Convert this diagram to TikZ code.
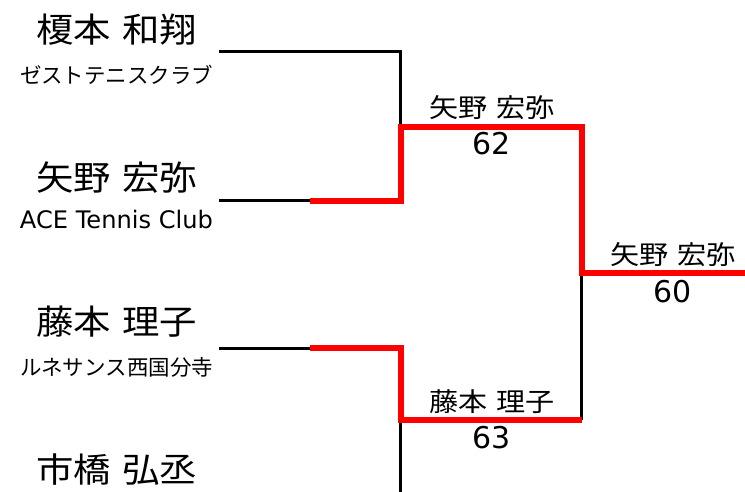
\documentclass[tikz,border=0pt]{standalone}
\usepackage{fontspec}
\setmainfont{Noto Sans CJK JP}
\newfontfamily\latinfont{DejaVu Sans}
\begin{document}
\begin{tikzpicture}[x=1pt,y=-1pt,
  bigname/.style={font=\fontsize{34}{40}\selectfont, inner sep=0pt},
  club/.style={font=\fontsize{21}{25}\selectfont, inner sep=0pt},
  winner/.style={font=\fontsize{26}{30}\selectfont, inner sep=0pt},
  score/.style={font=\latinfont\fontsize{30}{34}\selectfont, inner sep=0pt},
  blk/.style={line width=3pt, black, line join=miter},
  winline/.style={line width=6pt, color={rgb,255:red,255;green,0;blue,0}, line join=miter}]
\useasboundingbox (0,0) rectangle (745,492);
% players
\node[bigname] (n1) at (116.5,30) {\scalebox{1.1}[1]{榎本\hspace{0.3em}和翔}};
\node[club] (c1) at (116.5,75) {\resizebox{193pt}{!}{ゼストテニスクラブ}};
\node[bigname] (n2) at (116.5,178) {\scalebox{1.1}[1]{矢野\hspace{0.3em}宏弥}};
\node[club] (c2) at (116.5,220) {\resizebox{193pt}{!}{\latinfont ACE Tennis Club}};
\node[bigname] (n3) at (116.5,322) {\scalebox{1.1}[1]{藤本\hspace{0.3em}理子}};
\node[club] (c3) at (116.5,367) {\resizebox{193pt}{!}{ルネサンス西国分寺}};
\node[bigname] (n4) at (116.5,470) {\scalebox{1.1}[1]{市橋\hspace{0.3em}弘丞}};
% results
\node[winner] (w1) at (492,108) {\scalebox{1.12}[1]{矢野\hspace{0.3em}宏弥}};
\node[score] (s1) at (492,144) {62};
\node[winner] (w2) at (673,255) {\scalebox{1.12}[1]{矢野\hspace{0.3em}宏弥}};
\node[score] (s2) at (673,292) {60};
\node[winner] (w3) at (492,402) {\scalebox{1.12}[1]{藤本\hspace{0.3em}理子}};
\node[score] (s3) at (492,438) {63};
% bracket coordinates
\coordinate (a1) at (219,52);
\coordinate (a2) at (219,200.5);
\coordinate (a3) at (219,348);
\coordinate (m2) at (310,201);
\coordinate (m3) at (310,348);
\coordinate (b1) at (400.5,52);
\coordinate (b2) at (401,201);
\coordinate (b3) at (401,348);
\coordinate (sf1) at (401,127);
\coordinate (sf1b) at (400.5,127);
\coordinate (sf2) at (401,420);
\coordinate (sf2b) at (400.5,420);
\coordinate (sf1e) at (582,127);
\coordinate (sf2e) at (582,420);
\coordinate (f) at (582,273);
\coordinate (fb) at (581.5,273);
\coordinate (sf2eb) at (581.5,420);
\coordinate (fe) at (745,273);
\coordinate (bot) at (400.5,492);
% black lines
\draw[blk] (a1) -- (b1) -- (sf1b);
\draw[blk] (a2) -- (m2 |- a2);
\draw[blk] (a3) -- (m3);
\draw[blk] (sf2b) -- (bot);
\draw[blk] (fb) -- (sf2eb);
% red winner lines
\draw[winline] (m2) -- (b2) -- (sf1) -- (sf1e) -- (f) -- (fe);
\draw[winline] (m3) -- (b3) -- (sf2) -- (sf2e);
\end{tikzpicture}
\end{document}
